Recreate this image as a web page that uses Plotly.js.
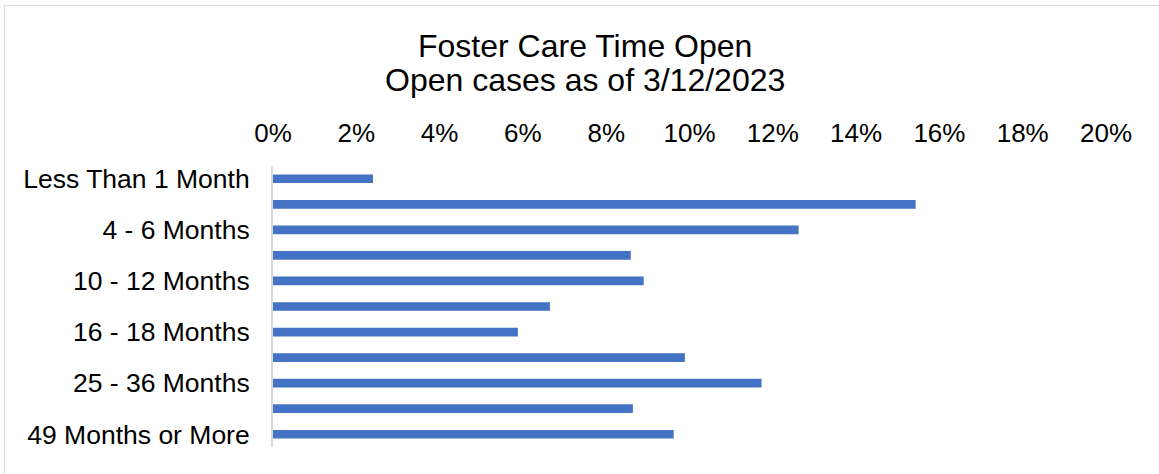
<!DOCTYPE html>
<html>
<head>
<meta charset="utf-8">
<script src="https://cdn.plot.ly/plotly-3.0.1.min.js"></script>
<style>
html,body{margin:0;padding:0;background:#fff;}
#wrap{position:relative;width:1159px;height:474px;}
#chart{width:1159px;height:474px;}
#frame{position:absolute;left:4px;top:5px;right:0;bottom:0;border-top:1px solid #d9d9d9;border-left:1px solid #d9d9d9;pointer-events:none;}
</style>
</head>
<body>
<div id="wrap"><div id="chart"></div><div id="frame"></div></div>
<script>
const categories = ["Less Than 1 Month","1 - 3 Months","4 - 6 Months","7 - 9 Months","10 - 12 Months","13 - 15 Months","16 - 18 Months","19 - 24 Months","25 - 36 Months","37 - 48 Months","49 Months or More"];
const shares = [0.024,0.1543,0.1262,0.0859,0.089,0.0665,0.0588,0.0989,0.1173,0.0864,0.0962];
const shownLabels = ["Less Than 1 Month","4 - 6 Months","10 - 12 Months","16 - 18 Months","25 - 36 Months","49 Months or More"];
const xTicks = [0,0.02,0.04,0.06,0.08,0.10,0.12,0.14,0.16,0.18,0.20];
const titleLine1 = "Foster Care Time Open";
const titleLine2 = "Open cases as of 3/12/2023";

const font = "Liberation Sans, Arial, sans-serif";
const trace = {
  type: "bar", orientation: "h",
  x: shares, y: categories,
  width: 0.34,
  marker: {color: "#4472C4", line: {width: 0}},
  hoverinfo: "x+y"
};
const layout = {
  width: 1159, height: 474,
  margin: {l: 273, r: 53, t: 166, b: 27},
  paper_bgcolor: "#fff", plot_bgcolor: "#fff",
  showlegend: false,
  font: {family: font, color: "#000"},
  xaxis: {
    side: "top", range: [0, 0.2], tickvals: xTicks, tickformat: ".0%",
    showgrid: false, zeroline: false, showline: false, ticks: "",
    tickfont: {size: 26, family: font, color: "#000"},
    ticklabelstandoff: 18
  },
  yaxis: {
    type: "category", autorange: "reversed",
    tickvals: shownLabels, ticktext: shownLabels,
    showgrid: false, zeroline: false, showline: true, linecolor: "#d9d9d9", linewidth: 2,
    ticks: "", tickfont: {size: 26.5, family: font, color: "#000"},
    ticklabelstandoff: 16
  },
  annotations: [
    {text: titleLine1, xref: "paper", yref: "paper", x: 0.3745, y: (447-46)/281, xanchor: "center", yanchor: "middle", showarrow: false, font: {size: 32, family: font, color: "#000"}},
    {text: titleLine2, xref: "paper", yref: "paper", x: 0.3745, y: (447-80)/281, xanchor: "center", yanchor: "middle", showarrow: false, font: {size: 32, family: font, color: "#000"}}
  ]
};
Plotly.newPlot("chart", [trace], layout, {displayModeBar: false, staticPlot: true});
</script>
</body>
</html>
